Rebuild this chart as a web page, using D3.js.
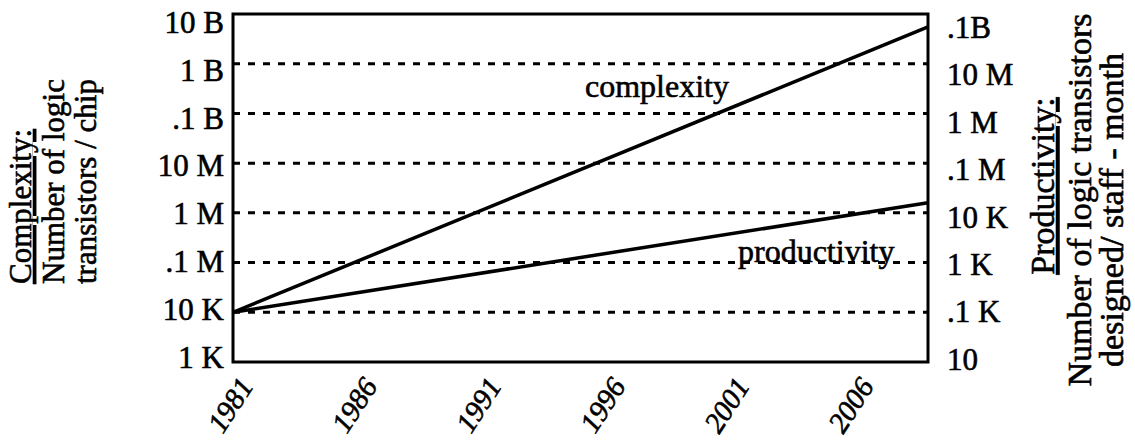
<!DOCTYPE html>
<html>
<head>
<meta charset="utf-8">
<script src="https://cdn.jsdelivr.net/npm/d3@7"></script>
<style>
  body { margin: 0; background: #fff; }
  svg text { font-family: "Liberation Serif", "Times New Roman", serif; fill: #000; stroke: #000; stroke-width: 0.6px; }
</style>
</head>
<body>
<svg id="chart"></svg>
<script>
// data
var years = [1981, 2009];
var complexity = [1e4, 5.5e9];      // left axis, transistors / chip
var productivity = [100, 1.6e4];    // right axis, transistors / staff-month
var xTicks = [1981, 1986, 1991, 1996, 2001, 2006];
var leftTicks = [1e3, 1e4, 1e5, 1e6, 1e7, 1e8, 1e9, 1e10];
var leftLabels = ["1 K", "10 K", ".1 M", "1 M", "10 M", ".1 B", "1 B", "10 B"];
var rightTicks = [1e1, 1e2, 1e3, 1e4, 1e5, 1e6, 1e7, 1e8];
var rightLabels = ["10", ".1 K", "1 K", "10 K", ".1 M", "1 M", "10 M", ".1B"];
var leftTitle = ["Complexity:", "Number of logic", "transistors / chip"];
var rightTitle = ["Productivity:", "Number of logic transistors", "designed/ staff - month"];

var width = 1135, height = 443;
var pLeft = 233, pRight = 928, pTop = 14, pBottom = 362;

var svg = d3.select("#chart").attr("width", width).attr("height", height);

var x = d3.scaleLinear().domain([1981, 2009]).range([pLeft, pRight]);
var yL = d3.scaleLog().domain([1e3, 1e10]).range([pBottom, pTop]);
var yR = d3.scaleLog().domain([1e1, 1e8]).range([pBottom, pTop]);
// tick labels in the scan sit slightly off their gridlines
var yLlab = d3.scaleLog().domain([1e3, 1e10]).range([357, 22]);
var yRlab = d3.scaleLog().domain([1e1, 1e8]).range([359, 27]);

// dashed gridlines
svg.append("g")
  .selectAll("line")
  .data(leftTicks.slice(1, -1))
  .enter().append("line")
  .attr("x1", pLeft).attr("x2", pRight)
  .attr("y1", function(d) { return yL(d); })
  .attr("y2", function(d) { return yL(d); })
  .attr("stroke", "#000")
  .attr("stroke-width", 3)
  .attr("stroke-dasharray", "7,8");

// frame
svg.append("rect")
  .attr("x", pLeft).attr("y", pTop)
  .attr("width", pRight - pLeft).attr("height", pBottom - pTop)
  .attr("fill", "none").attr("stroke", "#000").attr("stroke-width", 3);

// the two lines
var lineL = d3.line()
  .x(function(d) { return x(d[0]); })
  .y(function(d) { return yL(d[1]); });
var lineR = d3.line()
  .x(function(d) { return x(d[0]); })
  .y(function(d) { return yR(d[1]); });

svg.append("path")
  .datum(d3.zip(years, complexity))
  .attr("d", lineL)
  .attr("fill", "none").attr("stroke", "#000").attr("stroke-width", 3.5);

svg.append("path")
  .datum(d3.zip(years, productivity))
  .attr("d", lineR)
  .attr("fill", "none").attr("stroke", "#000").attr("stroke-width", 3.5);

// line labels
svg.append("text").attr("x", 585).attr("y", 97)
  .style("font-size", "32px").text("complexity");
svg.append("text").attr("x", 738).attr("y", 262)
  .style("font-size", "32px").text("productivity");

// left tick labels
svg.append("g")
  .selectAll("text")
  .data(leftTicks)
  .enter().append("text")
  .attr("x", 224)
  .attr("y", function(d) { return yLlab(d); })
  .attr("dy", "0.35em")
  .attr("text-anchor", "end")
  .style("font-size", "31px")
  .text(function(d, i) { return leftLabels[i]; });

// right tick labels
svg.append("g")
  .selectAll("text")
  .data(rightTicks)
  .enter().append("text")
  .attr("x", 947)
  .attr("y", function(d) { return yRlab(d); })
  .attr("dy", "0.35em")
  .style("font-size", "31px")
  .text(function(d, i) { return rightLabels[i]; });

// x tick labels, slanted italic
svg.append("g")
  .selectAll("text")
  .data(xTicks)
  .enter().append("text")
  .attr("transform", function(d) { return "translate(" + (x(d) - 3) + ",405) rotate(-57)"; })
  .attr("dy", "0.35em")
  .attr("text-anchor", "middle")
  .style("font-size", "29px")
  .style("font-style", "italic")
  .text(function(d) { return d; });

// left title
var ltx = [31, 64, 96];
svg.append("g")
  .selectAll("text")
  .data(leftTitle)
  .enter().append("text")
  .attr("transform", function(d, i) { return "translate(" + ltx[i] + ",284) rotate(-90)"; })
  .style("font-size", "31px")
  .style("text-decoration", function(d, i) { return i == 0 ? "underline" : null; })
  .text(function(d) { return d; });

// right title
var rtx = [1054, 1091, 1123];
var rty = [186, 200, 210];
svg.append("g")
  .selectAll("text")
  .data(rightTitle)
  .enter().append("text")
  .attr("transform", function(d, i) { return "translate(" + rtx[i] + "," + rty[i] + ") rotate(-90)"; })
  .attr("text-anchor", "middle")
  .style("font-size", "34px")
  .style("text-decoration", function(d, i) { return i == 0 ? "underline" : null; })
  .text(function(d) { return d; });
</script>
</body>
</html>
